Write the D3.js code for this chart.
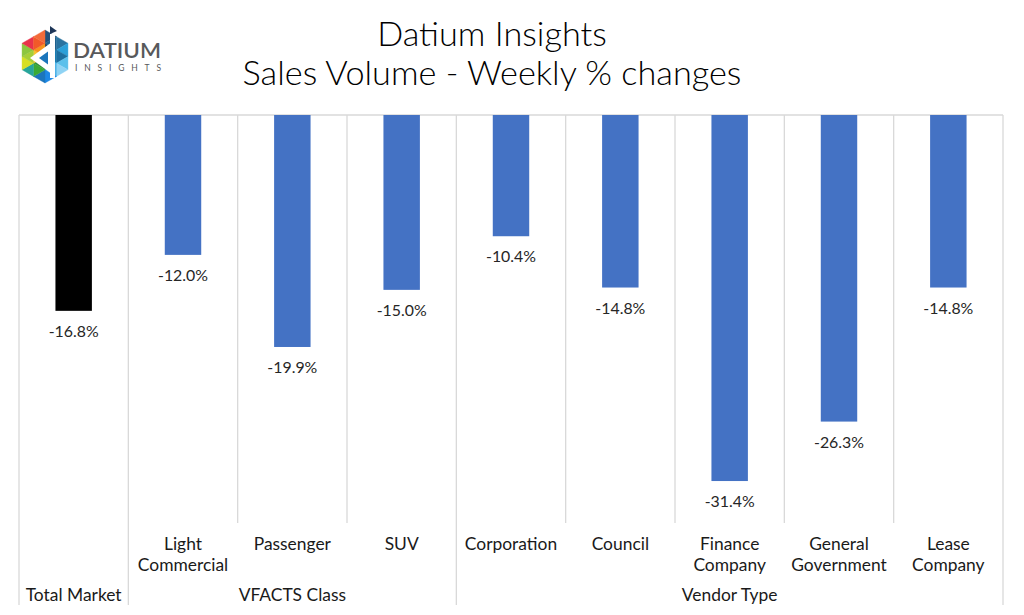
<!DOCTYPE html>
<html><head><meta charset="utf-8">
<script src="https://cdn.jsdelivr.net/npm/d3@7"></script>
<style>body{margin:0;background:#fff} svg{display:block}</style>
</head><body><svg id="c" width="1024" height="615"></svg>
<script>
// ---- data ----
const categories = ["Total Market","Light Commercial","Passenger","SUV","Corporation","Council","Finance Company","General Government","Lease Company"];
const categoryLines = [["Total Market"],["Light","Commercial"],["Passenger"],["SUV"],["Corporation"],["Council"],["Finance","Company"],["General","Government"],["Lease","Company"]];
const categoryGroup = [null,"VFACTS Class","VFACTS Class","VFACTS Class","Vendor Type","Vendor Type","Vendor Type","Vendor Type","Vendor Type"];
const groupNames = ["VFACTS Class","Vendor Type"];
const values = [-16.8,-12.0,-19.9,-15.0,-10.4,-14.8,-31.4,-26.3,-14.8];
const isTotal = [true,false,false,false,false,false,false,false,false];
const titleLines = ["Datium Insights","Sales Volume - Weekly % changes"];
const yDomain = [-35, 0];

// ---- layout ----
const FONT = "Lato, 'DejaVu Sans', sans-serif";
const L = 19, R = 1003, T = 115, B = 523, AXB = 605;
const svg = d3.select("#c");
const x = d3.scaleBand().domain(categories).range([L, R]).padding(0);
const y = d3.scaleLinear().domain(yDomain).range([B, T]);
const bw = x.bandwidth();
const grid = "#d9d9d9";
const fmt = v => d3.format(".1f")(v).replace("\u2212", "-") + "%";

function fitFont(sel, target, base) {
  sel.style("font-size", base + "px");
  const w = sel.node().getComputedTextLength();
  const s = base * target / w;
  sel.style("font-size", s + "px");
  return s;
}

// title
const tLine1 = svg.append("text").attr("x", 492).attr("y", 46).attr("text-anchor","middle")
  .style("font-family", FONT).style("font-weight", "300").attr("fill","#000").text(titleLines[0]);
const tLine2 = svg.append("text").attr("x", 492).attr("y", 85).attr("text-anchor","middle")
  .style("font-family", FONT).style("font-weight", "300").attr("fill","#000").text(titleLines[1]);
const ts = fitFont(tLine2, 499, 30);
tLine1.style("font-size", ts + "px");

// gridlines / separators
const boundaries = d3.range(categories.length + 1);
svg.append("g").selectAll("line").data(boundaries).join("line")
  .attr("x1", i => L + i * bw).attr("x2", i => L + i * bw)
  .attr("y1", T)
  .attr("y2", i => {
    if (i === 0 || i === categories.length) return AXB;
    return categoryGroup[i] !== categoryGroup[i - 1] ? AXB : B;
  })
  .attr("stroke", grid).attr("stroke-width", 1.3);
svg.append("line").attr("x1", L).attr("x2", R).attr("y1", T).attr("y2", T)
  .attr("stroke", grid).attr("stroke-width", 1.3);

// bars
svg.append("g").selectAll("rect").data(categories).join("rect")
  .attr("x", c => x(c) + bw / 3)
  .attr("width", bw / 3)
  .attr("y", (c, i) => Math.min(y(0), y(values[i])))
  .attr("height", (c, i) => Math.abs(y(values[i]) - y(0)))
  .attr("fill", (c, i) => isTotal[i] ? "#000000" : "#4472C4");

// data labels
const dl = svg.append("g").selectAll("text").data(categories).join("text")
  .attr("x", c => x(c) + bw / 2)
  .attr("y", (c, i) => y(values[i]) + 26)
  .attr("text-anchor", "middle")
  .style("font-family", FONT).attr("fill", "#262626")
  .text((c, i) => fmt(values[i]));
const dls = fitFont(d3.select(dl.nodes()[1]), 50, 16);
dl.style("font-size", dls + "px");

// category labels (one text element per category, wrapped with tspans)
const cat = svg.append("g");
categories.forEach((c, i) => {
  const lines = categoryLines[i];
  const base = categoryGroup[i] === null ? 601 : 550;
  const cx0 = x(c) + bw / 2;
  const t = cat.append("text").attr("class", "axl")
    .attr("x", cx0).attr("y", base)
    .attr("text-anchor", "middle").style("font-family", FONT).attr("fill", "#1a1a1a");
  lines.forEach((ln, j) => {
    t.append("tspan").attr("x", cx0).attr("dy", j === 0 ? 0 : 20.5).text(ln);
  });
});
groupNames.forEach(g => {
  const idx = categories.filter((c, i) => categoryGroup[i] === g);
  const x0 = x(idx[0]), x1 = x(idx[idx.length - 1]) + bw;
  cat.append("text").attr("class", "axl").attr("x", (x0 + x1) / 2).attr("y", 601)
    .attr("text-anchor", "middle").style("font-family", FONT).attr("fill", "#1a1a1a").text(g);
});
const axs = fitFont(cat.select("text"), 96, 16);
cat.selectAll("text").style("font-size", axs + "px");

// ---- logo ----
const logo = svg.append("g");
const cx = 45, cy = 56.5, Rh = 26.5;
const verts = d3.range(6).map(k => {
  const a = (-90 + 60 * k) * Math.PI / 180;
  return [cx + Rh * Math.cos(a), cy + Rh * Math.sin(a)];
});
const sectorColors = [
  ["#1d3557","#23507a","#1f6390","#2a73a0"],
  ["#1a7fb5","#2b9fd8","#1d6fa0","#5bc0eb"],
  ["#29abe2","#8fd3f4","#4fb3e8","#1e88e5"],
  ["#2f8f3f","#1c75bc","#3aaa35","#27a59a"],
  ["#f9c22e","#d7df23","#a6ce39","#8dc63f"],
  ["#f7941d","#e8334a","#f15a29","#f26b3a"]
];
const mid = (p, q) => [(p[0] + q[0]) / 2, (p[1] + q[1]) / 2];
for (let k = 0; k < 6; k++) {
  const A = [cx, cy], Bv = verts[k], C = verts[(k + 1) % 6];
  const ab = mid(A, Bv), bc = mid(Bv, C), ca = mid(C, A);
  const tris = [[A, ab, ca], [ab, Bv, bc], [ab, bc, ca], [ca, bc, C]];
  tris.forEach((t, j) => {
    logo.append("polygon").attr("points", t.map(p => p.join(",")).join(" "))
      .attr("fill", sectorColors[k][j]).attr("stroke", sectorColors[k][j]).attr("stroke-width", 0.4);
  });
}
logo.append("polygon").attr("points", "30,58 52,42 52,74").attr("fill", "#fff");
logo.append("polygon").attr("points", "39,58 48,51.5 48,64.5").attr("fill", "#1b75bb");
logo.append("rect").attr("x", 50).attr("y", 34).attr("width", 5).attr("height", 44).attr("fill", "#fff");
logo.append("polygon").attr("points", "50,26 57,31 50,34").attr("fill", "#1d3557");
logo.append("text").attr("x", 73).attr("y", 58).attr("textLength", 88).attr("lengthAdjust", "spacingAndGlyphs")
  .style("font-family", FONT).style("font-size", "21px").style("font-weight", "600").attr("fill", "#58595b").text("DATIUM");
logo.append("text").attr("x", 75).attr("y", 71).attr("textLength", 86).attr("lengthAdjust", "spacing")
  .style("font-family", FONT).style("font-size", "8.5px").attr("fill", "#58595b").text("INSIGHTS");
</script></body></html>
